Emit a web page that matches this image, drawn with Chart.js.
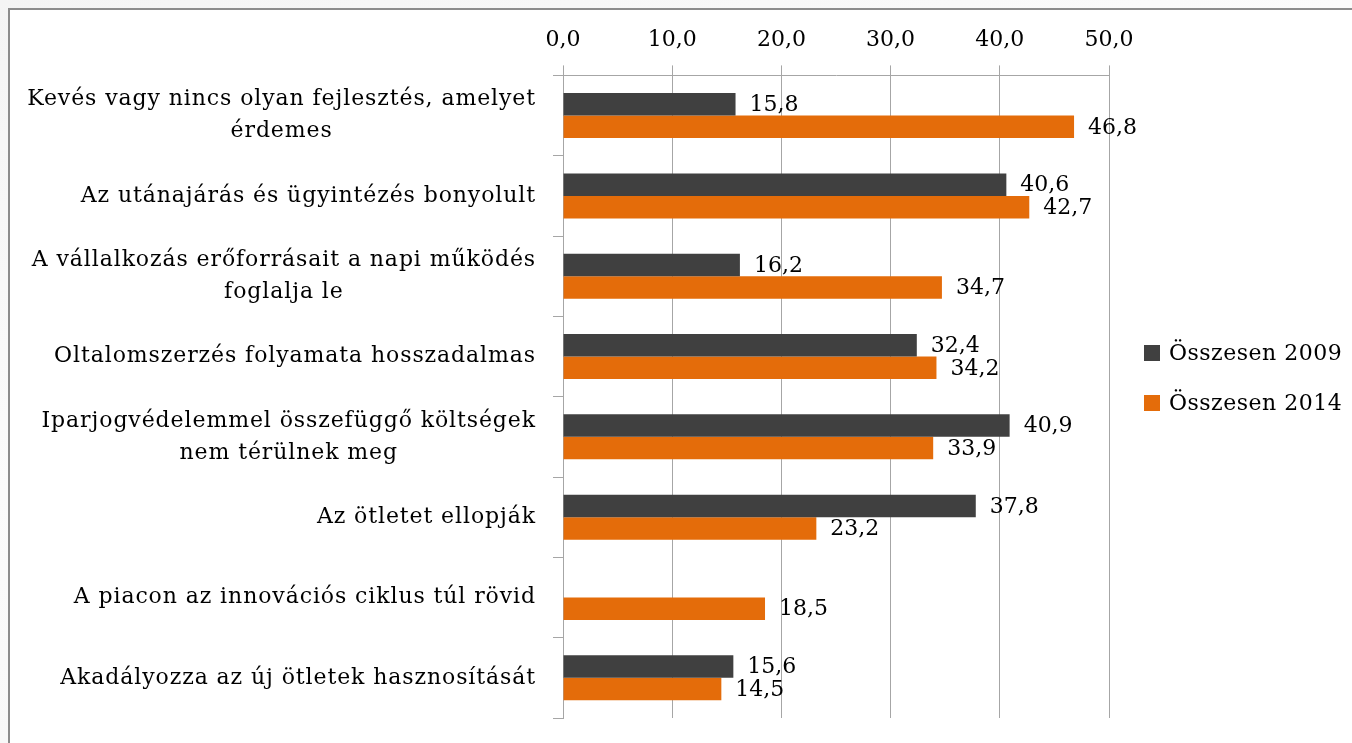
<!DOCTYPE html>
<html>
<head>
<meta charset="utf-8">
<script src="https://cdn.jsdelivr.net/npm/chart.js@4"></script>
<style>
  html, body { margin: 0; padding: 0; overflow: hidden; }
  body { width: 1352px; height: 743px; background: linear-gradient(160deg, #f4f4f4 0%, #fbfbfb 40%, #f2f2f2 100%); }
  #frame { position: absolute; left: 8px; top: 8px; width: 1360px; height: 760px;
           border: 2px solid #8c8c8c; background: #fff; }
  #chart { position: absolute; left: 0; top: 0; }
</style>
</head>
<body>
<div id="frame"><canvas id="chart" width="1342" height="733"></canvas></div>
<script>
const categories = [
  ["Kevés vagy nincs olyan fejlesztés, amelyet", "érdemes"],
  ["Az utánajárás és ügyintézés bonyolult"],
  ["A vállalkozás erőforrásait a napi működés", "foglalja le"],
  ["Oltalomszerzés folyamata hosszadalmas"],
  ["Iparjogvédelemmel összefüggő költségek", "nem térülnek meg"],
  ["Az ötletet ellopják"],
  ["A piacon az innovációs ciklus túl rövid"],
  ["Akadályozza az új ötletek hasznosítását"]
];
const seriesNames = ["Összesen 2009", "Összesen 2014"];
const values2009 = [15.8, 40.6, 16.2, 32.4, 40.9, 37.8, null, 15.6];
const values2014 = [46.8, 42.7, 34.7, 34.2, 33.9, 23.2, 18.5, 14.5];
const axisMin = 0, axisMax = 50, axisStep = 10;

const FONT = "'DejaVu Serif', serif";
const fmt = v => v.toFixed(1).replace('.', ',');

// category labels: block right aligned, lines centred inside the block
const catLabels = {
  id: 'catLabels',
  afterDraw(chart) {
    const ctx = chart.ctx, y = chart.scales.y;
    ctx.save();
    ctx.font = '22px ' + FONT;
    ctx.letterSpacing = '0.9px';
    ctx.fillStyle = '#000';
    ctx.textAlign = 'center';
    ctx.textBaseline = 'middle';
    const right = y.right - 27, lh = 32;
    categories.forEach((lines, i) => {
      const w = Math.max(...lines.map(l => ctx.measureText(l).width));
      const cy = y.getPixelForTick(i);
      lines.forEach((l, k) => {
        ctx.fillText(l, right - w / 2, cy + (k - (lines.length - 1) / 2) * lh);
      });
    });
    ctx.restore();
  }
};

// value labels at the end of each bar
const valueLabels = {
  id: 'valueLabels',
  afterDatasetsDraw(chart) {
    const ctx = chart.ctx;
    ctx.save();
    ctx.font = '22px ' + FONT;
    ctx.fillStyle = '#000';
    ctx.textAlign = 'left';
    ctx.textBaseline = 'middle';
    chart.data.datasets.forEach((ds, di) => {
      chart.getDatasetMeta(di).data.forEach((bar, i) => {
        if (ds.data[i] == null) return;
        ctx.fillText(fmt(ds.data[i]), bar.x + 14, bar.y + 1);
      });
    });
    ctx.restore();
  }
};

// legend on the right, square keys
const sideLegend = {
  id: 'sideLegend',
  afterDraw(chart) {
    const ctx = chart.ctx, area = chart.chartArea;
    ctx.save();
    ctx.font = '22px ' + FONT;
    ctx.letterSpacing = '0.5px';
    ctx.textAlign = 'left';
    ctx.textBaseline = 'middle';
    chart.data.datasets.forEach((ds, i) => {
      const cy = 343 + i * 50;
      ctx.fillStyle = ds.backgroundColor;
      ctx.fillRect(area.right + 35, cy - 8, 16, 16);
      ctx.fillStyle = '#000';
      ctx.fillText(ds.label, area.right + 60, cy + 1);
    });
    ctx.restore();
  }
};

new Chart(document.getElementById('chart'), {
  type: 'bar',
  data: {
    labels: categories,
    datasets: [
      { label: seriesNames[0], data: values2009, backgroundColor: '#404040' },
      { label: seriesNames[1], data: values2014, backgroundColor: '#e46c0a' }
    ]
  },
  options: {
    indexAxis: 'y',
    responsive: false,
    animation: false,
    categoryPercentage: 0.56,
    barPercentage: 1.0,
    layout: { padding: { top: 5, bottom: 25, left: 0, right: 243 } },
    scales: {
      x: {
        position: 'top',
        min: axisMin, max: axisMax,
        ticks: { stepSize: axisStep, color: '#000', padding: 12,
                 font: { family: FONT, size: 22 }, callback: v => fmt(v) },
        grid: { color: '#a6a6a6', tickLength: 10 },
        border: { color: '#a6a6a6' }
      },
      y: {
        ticks: { display: false },
        grid: { drawOnChartArea: false, color: '#a6a6a6', tickLength: 10, offset: true },
        border: { color: '#a6a6a6' },
        afterFit(scale) { scale.width = 553; }
      }
    },
    plugins: {
      tooltip: { enabled: false },
      legend: { display: false }
    }
  },
  plugins: [catLabels, valueLabels, sideLegend]
});
</script>
</body>
</html>
